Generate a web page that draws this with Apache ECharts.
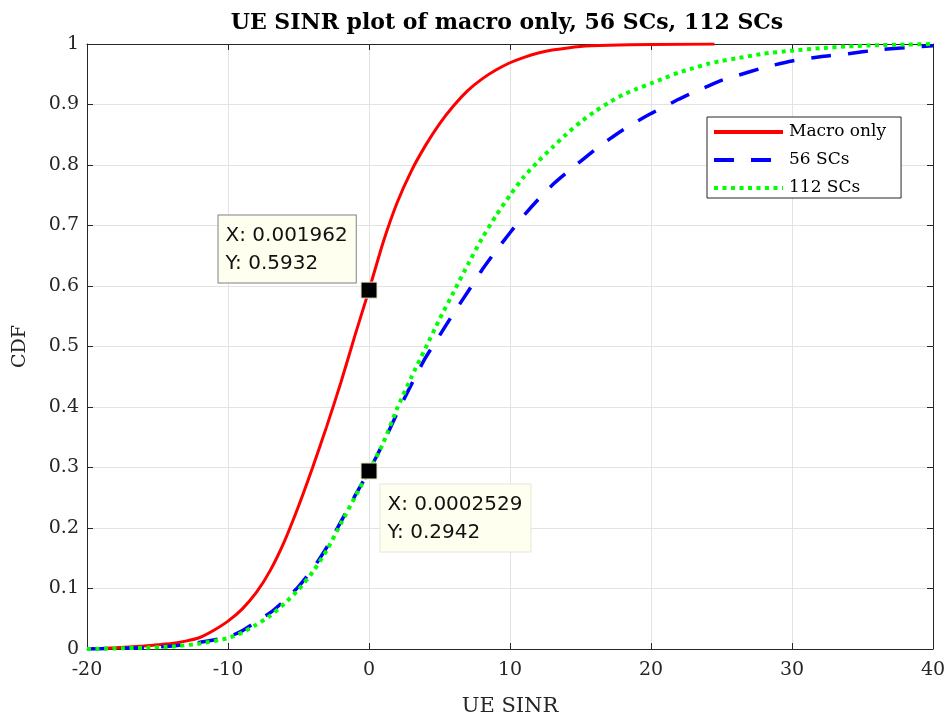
<!DOCTYPE html>
<html>
<head>
<meta charset="utf-8">
<script src="https://cdn.jsdelivr.net/npm/echarts@6/dist/echarts.min.js"></script>
<style>html,body{margin:0;padding:0;background:#fff}#c{width:950px;height:722px}</style>
</head>
<body>
<div id="c"></div>
<script>
const sinrMacro = [-20,-18,-16,-15,-14,-13,-12,-11,-10,-9,-8,-7,-6,-5,-4,-3,-2,-1,0,1,2,3,4,5,6,7,8,9,10,11,12,13,15,17,20,24.5];
const cdfMacro  = [0,0.002,0.005,0.007,0.009,0.013,0.019,0.031,0.046,0.066,0.093,0.13,0.178,0.236,0.3,0.368,0.44,0.518,0.5932,0.672,0.738,0.79,0.832,0.868,0.898,0.923,0.942,0.957,0.969,0.978,0.985,0.99,0.996,0.998,0.999,1.0];

const sinr56 = [-20,-18,-16,-14,-12,-10,-9,-8,-7,-6,-5,-4,-3,-2,-1,0,1,2,3,4,5,6,7,8,9,10,11,12,13,14,15,16,17,18,19,20,21,22,23,24,25,26,28,30,32,34,36,38,40];
const cdf56  = [0,0.001,0.002,0.005,0.011,0.02,0.03,0.045,0.06,0.08,0.103,0.132,0.168,0.21,0.253,0.2942,0.34,0.39,0.437,0.481,0.518,0.555,0.59,0.626,0.658,0.688,0.717,0.743,0.767,0.787,0.806,0.825,0.842,0.858,0.872,0.885,0.897,0.909,0.92,0.93,0.94,0.947,0.961,0.972,0.979,0.984,0.99,0.994,0.997];

const sinr112 = [-20,-18,-16,-14,-12,-10,-9,-8,-7,-6,-5,-4,-3,-2,-1,0,1,2,3,4,5,6,7,8,9,10,11,12,13,14,15,16,17,18,19,20,21,22,23,24,25,26,28,30,32,34,36,38,40];
const cdf112  = [0,0.001,0.002,0.004,0.009,0.018,0.027,0.04,0.055,0.075,0.098,0.127,0.163,0.207,0.251,0.2942,0.34,0.398,0.449,0.497,0.545,0.59,0.635,0.678,0.716,0.75,0.781,0.806,0.829,0.851,0.871,0.888,0.903,0.916,0.926,0.935,0.944,0.953,0.96,0.967,0.972,0.976,0.984,0.989,0.993,0.996,0.998,0.999,1.0];

const tipX = [0.001962, 0.0002529];
const tipY = [0.5932, 0.2942];

const xTicks = [-20,-10,0,10,20,30,40];
const yTicks = [0,0.1,0.2,0.3,0.4,0.5,0.6,0.7,0.8,0.9,1];

const pairs = (xs, ys) => xs.map((x, i) => [x, ys[i]]);

const chart = echarts.init(document.getElementById('c'), null, {renderer: 'canvas'});
const serif = 'DejaVu Serif';
const axisColor = '#262626';

const baseX = {
  type: 'value', min: -20, max: 40, interval: 10,
  axisLine: {show: true, onZero: false, lineStyle: {color: axisColor, width: 1}},
  axisTick: {show: true, inside: true, length: 6, lineStyle: {color: axisColor}},
  splitLine: {show: false}
};
const baseY = {
  type: 'value', min: 0, max: 1, interval: 0.1,
  axisLine: {show: true, onZero: false, lineStyle: {color: axisColor, width: 1}},
  axisTick: {show: true, inside: true, length: 6, lineStyle: {color: axisColor}},
  splitLine: {show: false}
};

chart.setOption({
  animation: false,
  backgroundColor: '#fff',
  title: {
    text: 'UE SINR plot of macro only, 56 SCs, 112 SCs',
    left: 502, top: 7, textAlign: 'center',
    textStyle: {fontFamily: serif, fontWeight: 'bold', fontSize: 22, color: '#000'}
  },
  grid: {left: 87, right: 17, top: 44, bottom: 69, containLabel: false},
  legend: {
    orient: 'vertical', left: 707, top: 117,
    data: ['Macro only', '56 SCs', '112 SCs'],
    itemWidth: 69, itemHeight: 14, itemGap: 8,
    padding: [5, 15, 0, 5],
    backgroundColor: '#fff', borderColor: '#262626', borderWidth: 1,
    itemStyle: {opacity: 0},
    lineStyle: {width: 4},
    textStyle: {fontFamily: serif, fontSize: 17, lineHeight: 20, color: '#000', padding: [0, 0, 0, 1]},
    selectedMode: false
  },
  xAxis: [
    Object.assign({}, baseX, {
      position: 'bottom',
      name: 'UE SINR', nameLocation: 'middle', nameGap: 47,
      nameTextStyle: {fontFamily: serif, fontSize: 21, color: axisColor},
      axisLabel: {show: true, margin: 12, fontFamily: serif, fontSize: 19, color: axisColor,
        formatter: v => xTicks.includes(v) ? String(v) : ''},
      splitLine: {show: true, lineStyle: {color: '#e3e3e3', width: 1}}
    }),
    Object.assign({}, baseX, {position: 'top', axisLabel: {show: false}})
  ],
  yAxis: [
    Object.assign({}, baseY, {
      position: 'left',
      name: 'CDF', nameLocation: 'middle', nameGap: 57, nameRotate: 90,
      nameTextStyle: {fontFamily: serif, fontSize: 19, color: axisColor},
      axisLabel: {show: true, margin: 8, fontFamily: serif, fontSize: 19, color: axisColor,
        formatter: v => { const t = yTicks.find(k => Math.abs(k - v) < 1e-9); return t === undefined ? '' : String(t); }},
      splitLine: {show: true, lineStyle: {color: '#e3e3e3', width: 1}}
    }),
    Object.assign({}, baseY, {position: 'right', axisLabel: {show: false}})
  ],
  series: [
    {
      name: 'Macro only', type: 'line', data: pairs(sinrMacro, cdfMacro),
      showSymbol: false, symbol: 'none', smooth: 0.2,
      lineStyle: {color: '#ff0000', width: 3, type: 'solid'},
      itemStyle: {color: '#ff0000'}, z: 3
    },
    {
      name: '56 SCs', type: 'line', data: pairs(sinr56, cdf56),
      showSymbol: false, symbol: 'none', smooth: 0.2,
      lineStyle: {color: '#0000ff', width: 3.5, type: [20, 17]},
      itemStyle: {color: '#0000ff'}, z: 3
    },
    {
      name: '112 SCs', type: 'line', data: pairs(sinr112, cdf112),
      showSymbol: false, symbol: 'none', smooth: 0.2,
      lineStyle: {color: '#00ff00', width: 4, type: [4, 4.5]},
      itemStyle: {color: '#00ff00'}, z: 4
    },
    {
      name: 'tips', type: 'scatter', z: 10,
      symbol: 'rect', symbolSize: 16,
      itemStyle: {color: '#000', opacity: 1, borderColor: '#e8e4c0', borderWidth: 1},
      emphasis: {disabled: true},
      data: [
        {value: [tipX[0], tipY[0]],
         label: {show: true, position: [-142, -66], align: 'left', verticalAlign: 'top',
           borderColor: '#808080',
           formatter: 'X: ' + tipX[0] + '\nY: ' + tipY[0]}},
        {value: [tipX[1], tipY[1]],
         label: {show: true, position: [20, 22], align: 'left', verticalAlign: 'top',
           borderColor: '#e6e6d2',
           formatter: 'X: ' + tipX[1] + '\nY: ' + tipY[1]}}
      ],
      label: {
        fontFamily: 'DejaVu Sans', fontSize: 20, color: '#111', lineHeight: 28,
        backgroundColor: '#fffff0', borderWidth: 1,
        padding: [6, 8, 5, 7]
      }
    }
  ]
});
</script>
</body>
</html>
